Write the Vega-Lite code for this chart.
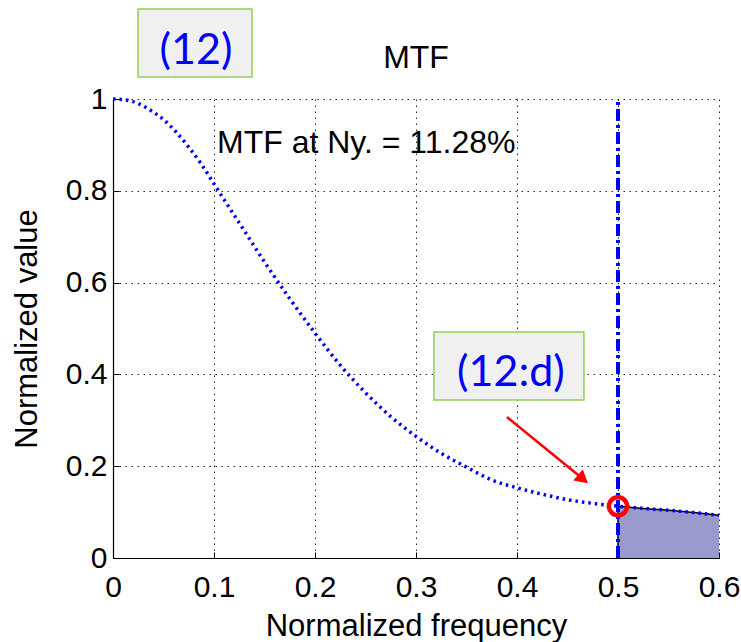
{
  "$schema": "https://vega.github.io/schema/vega-lite/v6.json",
  "width": 606,
  "height": 459,
  "autosize": {"type": "none"},
  "padding": {"left": 113, "top": 99, "right": 22, "bottom": 84},
  "background": "white",
  "title": {"text": "MTF", "font": "Liberation Sans", "fontSize": 32, "fontWeight": "normal", "color": "black", "baseline": "bottom", "offset": 0, "dy": 99},
  "config": {
    "view": {"stroke": null},
    "axis": {
      "labelFont": "Liberation Sans", "labelFontSize": 30, "labelColor": "black", "labelFlush": false,
      "titleFont": "Liberation Sans", "titleFontSize": 31, "titleFontWeight": "normal", "titleColor": "black",
      "domainColor": "black", "domainWidth": 1.2,
      "tickColor": "black", "tickSize": -6, "tickWidth": 1,
      "grid": true, "gridColor": "black", "gridDash": [1.5, 4.5], "gridWidth": 1, "gridOpacity": 0.85,
      "format": "~g"
    }
  },
  "datasets": {
    "mtf": [
      {"x": 0.0, "y": 1.0},
      {"x": 0.0125, "y": 0.998},
      {"x": 0.025, "y": 0.99},
      {"x": 0.0375, "y": 0.975},
      {"x": 0.05, "y": 0.955},
      {"x": 0.0625, "y": 0.928},
      {"x": 0.075, "y": 0.895},
      {"x": 0.0875, "y": 0.858},
      {"x": 0.1, "y": 0.815},
      {"x": 0.125, "y": 0.73},
      {"x": 0.15, "y": 0.645},
      {"x": 0.175, "y": 0.565},
      {"x": 0.2, "y": 0.49},
      {"x": 0.225, "y": 0.42},
      {"x": 0.25, "y": 0.36},
      {"x": 0.275, "y": 0.308},
      {"x": 0.3, "y": 0.265},
      {"x": 0.325, "y": 0.228},
      {"x": 0.35, "y": 0.198},
      {"x": 0.375, "y": 0.17},
      {"x": 0.4, "y": 0.153},
      {"x": 0.425, "y": 0.139},
      {"x": 0.45, "y": 0.127},
      {"x": 0.475, "y": 0.119},
      {"x": 0.5, "y": 0.1128},
      {"x": 0.525, "y": 0.108},
      {"x": 0.55, "y": 0.104},
      {"x": 0.575, "y": 0.099},
      {"x": 0.6, "y": 0.093}
    ]
  },
  "encoding": {
    "x": {"field": "x", "type": "quantitative", "scale": {"domain": [0, 0.6], "nice": false, "zero": false},
          "axis": {"title": "Normalized frequency", "values": [0, 0.1, 0.2, 0.3, 0.4, 0.5, 0.6], "labelPadding": 20, "titlePadding": 9}},
    "y": {"field": "y", "type": "quantitative", "scale": {"domain": [0, 1], "nice": false, "zero": false},
          "axis": {"title": "Normalized value", "values": [0, 0.2, 0.4, 0.6, 0.8, 1], "labelPadding": 12, "titlePadding": 22}}
  },
  "layer": [
    {
      "data": {"name": "mtf"},
      "transform": [{"filter": "datum.x >= 0.5"}],
      "mark": {"type": "area", "color": "#9999cc", "opacity": 1}
    },
    {
      "data": {"name": "mtf"},
      "transform": [{"filter": "datum.x >= 0.5"}],
      "mark": {"type": "line", "color": "black", "strokeWidth": 1.5}
    },
    {
      "data": {"values": [{"x": 0.5, "y": 0, "y2": 0.1128}]},
      "mark": {"type": "rule", "color": "black", "strokeWidth": 1.5},
      "encoding": {"y2": {"field": "y2"}}
    },
    {
      "data": {"name": "mtf"},
      "mark": {"type": "line", "color": "#0000ff", "strokeWidth": 3.5, "strokeDash": [2.5, 4], "interpolate": "monotone"}
    },
    {
      "data": {"values": [{"x": 0.5, "y": 0, "y2": 1}]},
      "mark": {"type": "rule", "color": "#0000ff", "strokeWidth": 4, "strokeDash": [12, 4, 3, 4]},
      "encoding": {"y2": {"field": "y2"}}
    },
    {
      "data": {"values": [{"x": 0.5, "y": 0.1128}]},
      "mark": {"type": "point", "shape": "circle", "filled": false, "stroke": "#ff0000", "strokeWidth": 4.5, "size": 330, "opacity": 1}
    },
    {
      "data": {"values": [{"x": 0.39, "y": 0.307, "x2": 0.462, "y2": 0.178}]},
      "mark": {"type": "rule", "color": "#ff0000", "strokeWidth": 2.5},
      "encoding": {"x2": {"field": "x2"}, "y2": {"field": "y2"}}
    },
    {
      "data": {"values": [{"x": 0.4653, "y": 0.172}]},
      "mark": {"type": "point", "shape": "triangle-up", "filled": true, "color": "#ff0000", "size": 220, "angle": 130, "opacity": 1}
    },
    {
      "data": {"values": [{"x": 0.103, "y": 0.882, "label": "MTF at Ny. = 11.28%"}]},
      "mark": {"type": "text", "align": "left", "baseline": "alphabetic", "font": "Liberation Sans", "fontSize": 32, "color": "black"},
      "encoding": {"text": {"field": "label"}}
    },
    {
      "data": {"values": [
        {"x": 0.0248, "x2": 0.1376, "y": 1.048, "y2": 1.196},
        {"x": 0.3178, "x2": 0.4663, "y": 0.3442, "y2": 0.4924}
      ]},
      "mark": {"type": "rect", "fill": "#f0f0f0", "stroke": "#92d050", "strokeWidth": 1.5, "clip": false},
      "encoding": {"x2": {"field": "x2"}, "y2": {"field": "y2"}}
    },
    {
      "data": {"values": [
        {"x": 0.0822, "y": 1.105, "label": "(12)"},
        {"x": 0.394, "y": 0.403, "label": "(12:d)"}
      ]},
      "mark": {"type": "text", "align": "center", "baseline": "middle", "font": "Lato", "fontSize": 43, "color": "#0000ff", "clip": false},
      "encoding": {"text": {"field": "label"}}
    }
  ]
}
